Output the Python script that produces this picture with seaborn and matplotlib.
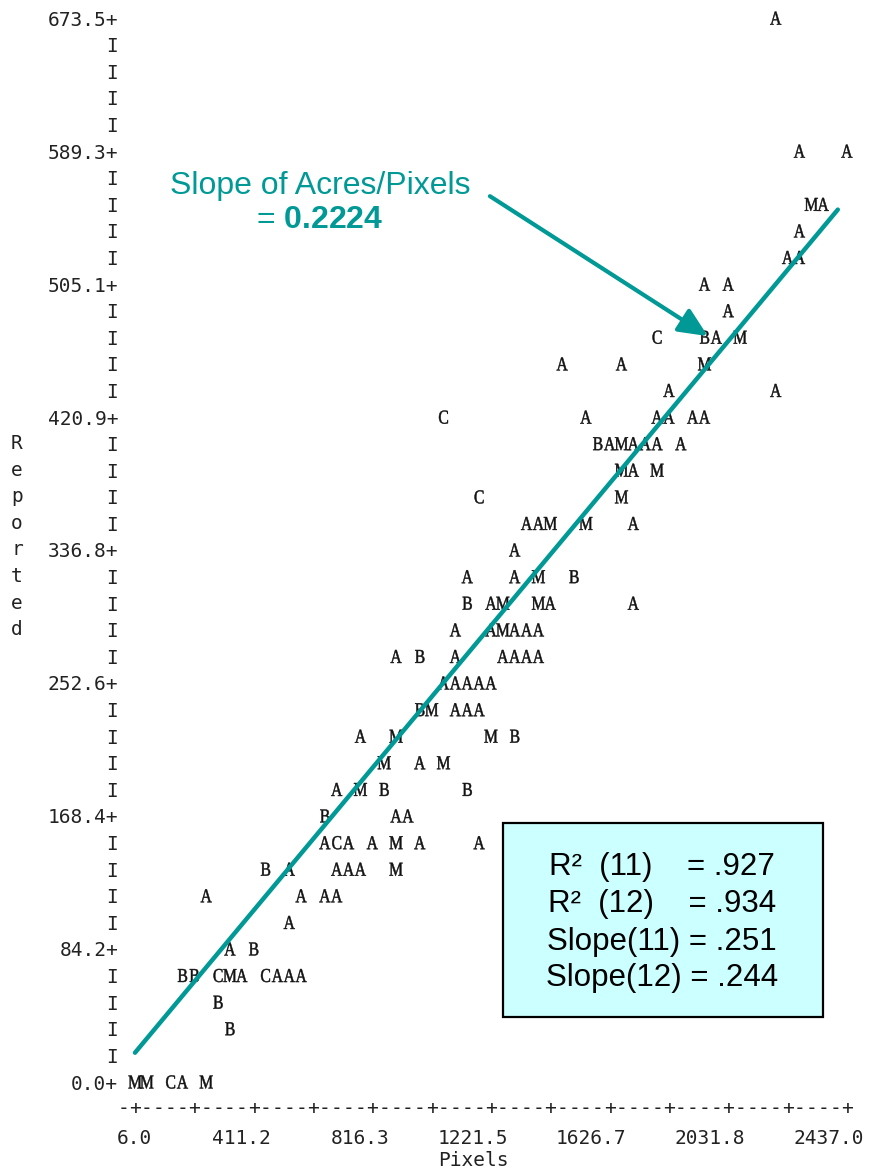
import numpy as np
import pandas as pd
import matplotlib
matplotlib.use("Agg")
import matplotlib.pyplot as plt
from matplotlib.patches import Rectangle
from matplotlib.textpath import TextPath
from matplotlib.font_manager import FontProperties
from matplotlib.path import Path
import seaborn as sns

# ---------------------------------------------------------------------------
# Observations: pixel count, reported acreage and the plot symbol used
# ---------------------------------------------------------------------------
reported = (
    [673.5]
    + [589.3] * 2
    + [555.6] * 2
    + [538.8]
    + [522.0] * 2
    + [505.1] * 2
    + [488.3]
    + [471.5] * 4
    + [454.6] * 3
    + [437.8] * 2
    + [420.9] * 6
    + [404.1] * 7
    + [387.3] * 3
    + [370.4] * 2
    + [353.6] * 5
    + [336.8]
    + [319.9] * 4
    + [303.1] * 6
    + [286.2] * 6
    + [269.4] * 7
    + [252.6] * 5
    + [235.7] * 5
    + [218.9] * 4
    + [202.1] * 3
    + [185.2] * 4
    + [168.4] * 3
    + [151.5] * 7
    + [134.7] * 6
    + [117.9] * 4
    + [101.0]
    + [84.2] * 2
    + [67.4] * 9
    + [50.5]
    + [33.7]
    + [0.0] * 5
)

pixels = [
    2193.9,
    2274.9, 2437.0,
    2315.5, 2356.0,
    2274.9,
    2234.4, 2274.9,
    1950.8, 2031.8,
    2031.8,
    1788.7, 1950.8, 1991.3, 2072.4,
    1464.6, 1667.2, 1950.8,
    1829.3, 2193.9,
    1059.4, 1545.6, 1788.7, 1829.3, 1910.3, 1950.8,
    1586.2, 1626.7, 1667.2, 1707.7, 1748.2, 1788.7, 1869.8,
    1667.2, 1707.7, 1788.7,
    1181.0, 1667.2,
    1343.1, 1383.6, 1424.1, 1545.6, 1707.7,
    1302.5,
    1140.5, 1302.5, 1383.6, 1505.1,
    1140.5, 1221.5, 1262.0, 1383.6, 1424.1, 1707.7,
    1100.0, 1221.5, 1262.0, 1302.5, 1343.1, 1383.6,
    897.4, 978.4, 1100.0, 1262.0, 1302.5, 1343.1, 1383.6,
    1059.4, 1100.0, 1140.5, 1181.0, 1221.5,
    978.4, 1018.9, 1100.0, 1140.5, 1181.0,
    775.8, 897.4, 1221.5, 1302.5,
    856.9, 978.4, 1059.4,
    694.8, 775.8, 856.9, 1140.5,
    654.3, 897.4, 937.9,
    654.3, 694.8, 735.3, 816.3, 897.4, 978.4, 1181.0,
    451.7, 532.7, 694.8, 735.3, 775.8, 897.4,
    249.1, 573.2, 654.3, 694.8,
    532.7,
    330.1, 411.2,
    168.1, 208.6, 289.6, 330.1, 370.7, 451.7, 492.2, 532.7, 573.2,
    289.6,
    330.1,
    6.0, 46.5, 127.6, 168.1, 249.1,
]

symbol = list(
    "A"
    "AA"
    "MA"
    "A"
    "AA"
    "AA"
    "A"
    "CBAM"
    "AAM"
    "AA"
    "CAAAAA"
    "BAMAAAA"
    "MAM"
    "CM"
    "AAMMA"
    "A"
    "AAMB"
    "BAMMAA"
    "AAMAAA"
    "ABAAAAA"
    "AAAAA"
    "BMAAA"
    "AMMB"
    "MAM"
    "AMBB"
    "BAA"
    "ACAAMAA"
    "BAAAAM"
    "AAAA"
    "A"
    "AB"
    "BBCMACAAA"
    "B"
    "B"
    "MMCAM"
)

# Axis tick values
x_tick_values = [6.0, 411.2, 816.3, 1221.5, 1626.7, 2031.8, 2437.0]
y_tick_values = [0.0, 84.2, 168.4, 252.6, 336.8, 420.9, 505.1, 589.3, 673.5]

# Fitted line and summary statistics
fit_slope = 0.2224
fit_intercept = 17.2
fit_x = [6.0, 2406.0]
model_names = ["11", "12"]
r2_values = [0.927, 0.934]
slope_values = [0.251, 0.244]

df = pd.DataFrame({"Pixels": pixels, "Reported": reported, "Symbol": symbol})

# ---------------------------------------------------------------------------
sns.set_theme(style="white")
plt.rcParams["font.family"] = ["DejaVu Sans Mono", "DejaVu Sans"]
plt.rcParams["mathtext.fontset"] = "custom"
plt.rcParams["mathtext.rm"] = "Liberation Sans"
plt.rcParams["mathtext.bf"] = "Liberation Sans:bold"

W, H, DPI = 869, 1170, 100
fig = plt.figure(figsize=(W / DPI, H / DPI), dpi=DPI)
fig.patch.set_facecolor("white")

TEAL = "#009996"
AXIS_TEXT = "#222222"
MONO = "DejaVu Sans Mono"
AXIS_FS = 14.0

# character-cell geometry of the line-printer style plot
col_step = (x_tick_values[1] - x_tick_values[0]) / 10
row_step = (y_tick_values[1] - y_tick_values[0]) / 5
px_per_col = 11.866
px_per_row = 26.6

ax_left, ax_right, ax_top, ax_bottom = 121, 869, 0, 1082 + px_per_row
ax = fig.add_axes([ax_left / W, (H - ax_bottom) / H,
                   (ax_right - ax_left) / W, (ax_bottom - ax_top) / H])
ax.set_facecolor("white")
for s in ax.spines.values():
    s.set_visible(False)

first_col_px = 135
xmin = x_tick_values[0] - (first_col_px - ax_left) / px_per_col * col_step
xmax = xmin + (ax_right - ax_left) / px_per_col * col_step
ymin = -row_step
ymax = ymin + (ax_bottom - ax_top) / px_per_row * row_step
ax.set_xlim(xmin, xmax)
ax.set_ylim(ymin, ymax)


# letter-shaped markers: a serif glyph squeezed into one print cell, with a
# shared invisible frame so every letter is scaled the same way
glyph_font = FontProperties(family="Liberation Serif")


def letter_marker(ch, squeeze=0.8):
    tp = TextPath((0, 0), ch, size=1, prop=glyph_font)
    verts = tp.vertices.copy()
    codes = tp.codes.copy()
    bb = tp.get_extents()
    verts[:, 0] = (verts[:, 0] - (bb.x0 + bb.x1) / 2) * squeeze
    verts[:, 1] = verts[:, 1] - (bb.y0 + bb.y1) / 2
    frame = np.array([[-0.5, -0.5], [0.5, 0.5]])
    return Path(np.vstack([frame, verts]),
                np.concatenate([[Path.MOVETO, Path.MOVETO], codes]))


marker_map = {ch: letter_marker(ch) for ch in sorted(set(symbol))}
sns.scatterplot(data=df, x="Pixels", y="Reported", style="Symbol",
                markers=marker_map, s=200, color="#111111",
                edgecolor="#111111", linewidth=0.35, legend=False, ax=ax,
                zorder=2)

# fitted regression line
fit_x_arr = np.array(fit_x)
sns.lineplot(x=fit_x_arr, y=fit_intercept + fit_slope * fit_x_arr, ax=ax,
             color=TEAL, linewidth=3.2, zorder=3)
ax.set_xlabel("")
ax.set_ylabel("")

# ---------------- vertical axis: "nnn.n+" and "I" -------------------------
y_minor = []
for a, b in zip(y_tick_values[:-1], y_tick_values[1:]):
    y_minor += list(np.linspace(a, b, 6)[1:-1])
ax.set_yticks(y_tick_values, labels=[f"{v:.1f}+" for v in y_tick_values])
ax.set_yticks(y_minor, labels=["I"] * len(y_minor), minor=True)
ax.tick_params(axis="y", which="both", length=0, pad=2.0, labelsize=AXIS_FS,
               labelcolor=AXIS_TEXT, labelfontfamily=MONO, left=True)

# ---------------- horizontal axis: "-+----+----+" -------------------------
n_cols = int(round((x_tick_values[-1] - x_tick_values[0]) / col_step))
x_major = [x_tick_values[0] + c * col_step for c in range(0, n_cols + 1, 5)]
x_minor = [x_tick_values[0] + c * col_step for c in range(-1, n_cols + 1) if c % 5]
ax.set_xticks(x_major, labels=["+"] * len(x_major))
ax.set_xticks(x_minor, labels=["-"] * len(x_minor), minor=True)
ax.tick_params(axis="x", which="both", length=0, pad=0, labelsize=AXIS_FS,
               labelcolor=AXIS_TEXT, labelfontfamily=MONO, bottom=True)
for t in ax.xaxis.get_major_ticks() + ax.xaxis.get_minor_ticks():
    t.label1.set_verticalalignment("center")

for v in x_tick_values:
    ax.annotate(f"{v:.1f}", xy=(v, 0), xycoords=("data", "axes fraction"),
                xytext=(17, -30), textcoords="offset pixels", ha="right",
                va="center", fontsize=AXIS_FS, family=MONO, color=AXIS_TEXT)

ax.annotate("Pixels", xy=(0.4706, 0), xycoords="axes fraction",
            xytext=(0, -52), textcoords="offset pixels", ha="center",
            va="center", fontsize=AXIS_FS, family=MONO, color=AXIS_TEXT)

# vertical axis title, one letter per print line
for i, ch in enumerate("Reported"):
    ax.annotate(ch, xy=(0, (24 - i) * row_step),
                xycoords=("axes fraction", "data"),
                xytext=(17 - ax_left, 0), textcoords="offset pixels",
                ha="center", va="center", fontsize=AXIS_FS, family=MONO,
                color=AXIS_TEXT)

# ---------------- slope call-out -----------------------------------------
ax.text(637.7, 567.2, "Slope of Acres/Pixels", ha="center", va="center",
        fontsize=23, family="Liberation Sans", color=TEAL)
ax.text(637.7, 545.6, f"= $\\mathbf{{{fit_slope:.4f}}}$", ha="center",
        va="center", fontsize=23, family="Liberation Sans", color=TEAL)
ax.annotate("", xy=(1962, 472.2), xytext=(1218, 560.8),
            arrowprops=dict(arrowstyle="-|>,head_length=1.1,head_width=0.5",
                            mutation_scale=16, color=TEAL, lw=3,
                            shrinkA=0, shrinkB=0))

# ---------------- statistics box -----------------------------------------
box = Rectangle((503 / W, (H - 1017) / H), 320 / W, 194 / H,
                transform=fig.transFigure, facecolor="#ccffff",
                edgecolor="black", linewidth=1.6, zorder=5)
fig.add_artist(box)
lines = [f"R\u00b2  ({m})    = {v:.3f}".replace("0.", ".")
         for m, v in zip(model_names, r2_values)]
lines += [f"Slope({m}) = {v:.3f}".replace("0.", ".")
          for m, v in zip(model_names, slope_values)]
for txt, ypx in zip(lines, [867, 904, 942, 978]):
    t = fig.text(662 / W, (H - ypx) / H, txt, ha="center", va="center",
                 fontsize=22.5, family="Liberation Sans", color="black")
    t.set_zorder(6)

fig.savefig("out.png", dpi=DPI, facecolor="white")
